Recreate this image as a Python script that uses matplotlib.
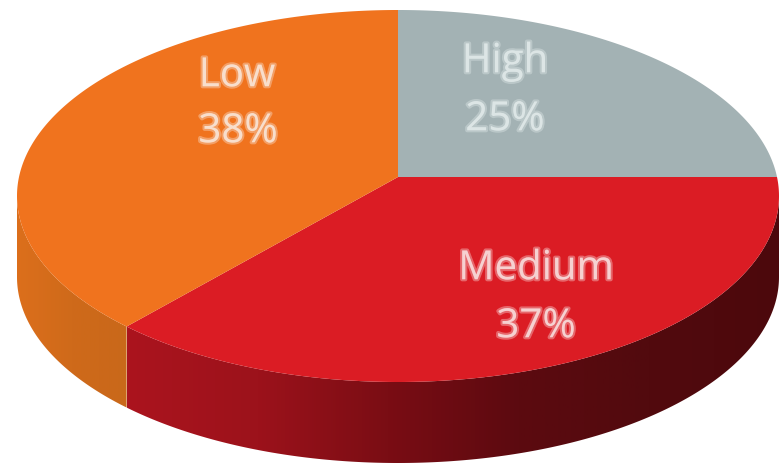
import numpy as np
import matplotlib
matplotlib.use('Agg')
import matplotlib.pyplot as plt
import matplotlib.patheffects as pe
from matplotlib.colors import LinearSegmentedColormap

labels = ['High', 'Medium', 'Low']
values = [25, 37, 38]
top_colors = ['#a3b2b4', '#db1c24', '#f0731e']

cx, cy = 398, 196  # ellipse centre, px
rx, ry = 381, 186
apex_up = 19 / 186  # the apex sits above the centre (perspective)
k = 1.06
depth = 81


def edge(deg):
    # where a ray from the apex meets the ellipse, in unit circle coords
    t = np.radians(deg)
    dx, dy = np.cos(t), k * np.sin(t)
    n = np.hypot(dx, dy)
    dx, dy = dx / n, dy / n
    b = apex_up * dy
    s = -b + np.sqrt(b ** 2 - apex_up ** 2 + 1)
    return cx + rx * s * dx, cy - ry * (apex_up + s * dy)


fig = plt.figure(figsize=(7.8, 4.65), dpi=100)
ax = fig.add_axes([0, 0, 1, 1])
ax.set_xlim(0, 780)
ax.set_ylim(465, 0)
ax.axis('off')

# side wall: red part goes dark to the right, orange is nearly flat
red_side = LinearSegmentedColormap.from_list('rs', ['#ab141e', '#9c121b', '#7a0d14', '#5c0a10', '#520a0e', '#4c080c'])
orange_side = LinearSegmentedColormap.from_list('os', ['#dc6f1c', '#cf6a1a', '#c9681a'])

start = 90
for lab, val, col in zip(labels, values, top_colors):
    end = start - val * 3.6
    t = np.linspace(start, end, 300)
    x, y = edge(t)
    # outer wall only where the rim is below the ellipse centre
    mask = y >= cy
    if mask.sum() > 1:
        fx, fy = x[mask], y[mask]
        wall = ax.fill(np.r_[fx, fx[::-1]], np.r_[fy, fy[::-1] + depth], color='none', lw=0, zorder=1)[0]
        cmap = red_side if lab == 'Medium' else orange_side
        im = ax.imshow(np.linspace(0, 1, 256).reshape(1, -1), cmap=cmap, aspect='auto',
                       extent=[fx.min(), fx.max(), 465, 0], zorder=1)
        im.set_clip_path(wall)
    ax.fill(np.r_[398, x], np.r_[177, y], color=col, lw=0, zorder=2)
    start = end
ax.set_xlim(0, 780)
ax.set_ylim(465, 0)


def label(x, y, s, color):
    ax.text(x, y, s, color=color, fontsize=29, ha='center', va='center', family='Open Sans',
            fontweight='medium', alpha=0.9, zorder=3,
            path_effects=[pe.withStroke(linewidth=3, foreground=color, alpha=0.4)])


label(237, 76, 'Low', '#f9e3d3')
label(238, 132, '38%', '#f9e3d3')
label(505, 62, 'High', '#dfe8e8')
label(505, 120, '25%', '#dfe8e8')
label(536, 269, 'Medium', '#f8d8d8')
label(536, 327, '37%', '#f8d8d8')

fig.savefig('out.png', dpi=100, facecolor='white')
